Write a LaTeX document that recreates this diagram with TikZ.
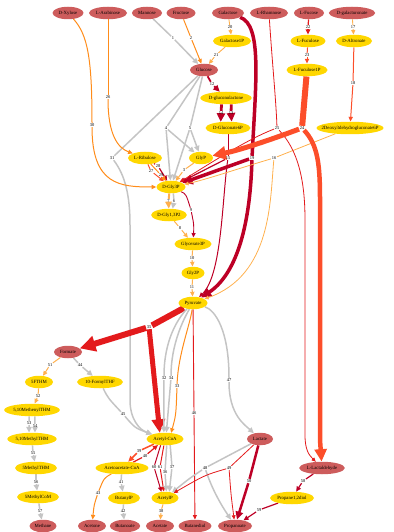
\documentclass[tikz,border=0pt]{standalone}
\usepackage{fontspec}
\setmainfont{Liberation Serif}
\usetikzlibrary{shapes.geometric,arrows.meta}
\definecolor{nr}{HTML}{CD5C5C}
\definecolor{ny}{HTML}{FFD700}
\definecolor{cg}{HTML}{C4C4C4}
\definecolor{cl}{HTML}{FFB04D}
\definecolor{co}{HTML}{FF8C1A}
\definecolor{cor}{HTML}{FC4E2A}
\definecolor{cr}{HTML}{E31A1C}
\definecolor{cd}{HTML}{BD0026}
\pgfdeclarelayer{bg}
\pgfsetlayers{bg,main}
\begin{document}
\begin{tikzpicture}[x=1bp,y=-1bp,
 met/.style={ellipse,inner xsep=1bp,inner ysep=0.5bp,minimum height=12.5bp,font=\fontsize{4.8}{5.5}\selectfont},
 rm/.style={met,fill=nr,minimum width=#1bp},
 ym/.style={met,fill=ny,minimum width=#1bp},
 rx/.style={inner sep=0.5bp,font=\fontsize{4.5}{5}\selectfont,text=black},
 arw/.style={-{Triangle[length=2.5bp 2.2,width=2bp 2.2]}},
 eg/.style={draw=cg,line width=1.5bp},
 el/.style={draw=cl,line width=#1bp}, el/.default=0.9,
 eo/.style={draw=co,line width=#1bp}, eo/.default=1,
 eor/.style={draw=cor,line width=#1bp}, eor/.default=1,
 er/.style={draw=cr,line width=#1bp}, er/.default=1,
 ed/.style={draw=cd,line width=#1bp}, ed/.default=1]
\useasboundingbox (0,0) rectangle (393,532);
% metabolites
\node[rm=31] (Xyl) at (68,13) {D-Xylose};
\node[rm=38] (Ara) at (108,13) {L-Arabinose};
\node[rm=30] (Man) at (147,13) {Mannose};
\node[rm=29] (Fru) at (181,13) {Fructose};
\node[rm=32] (Gal) at (228,13) {Galactose};
\node[rm=38] (Rha) at (269,13) {L-Rhamnose};
\node[rm=30] (Fuc) at (309,13) {L-Fucose};
\node[rm=46] (Galu) at (352,13) {D-galacturonate};
\node[ym=38] (GalP) at (232,41) {Galactose1P};
\node[ym=35] (Fucl) at (308,41) {L-Fuculose};
\node[ym=36] (Alt) at (354,41) {D-Altronate};
\node[rm=28] (Glc) at (204,70) {Glucose};
\node[ym=41] (FuclP) at (307,70) {L-Fuculose1P};
\node[ym=50] (Glnl) at (226,98) {D-gluconolactone};
\node[ym=45] (Gnt) at (228,128) {D-Gluconate6P};
\node[ym=67,inner xsep=-12bp] (KDPG) at (350,128) {2Deoxy3dehydrogluconate6P};
\node[ym=34] (Rbl) at (145,158) {L-Ribulose};
\node[ym=24] (GlyP) at (201,158) {GlyP};
\node[ym=29] (G3P) at (171,187) {D-Gly3P};
\node[ym=34] (BPG) at (169,215) {D-Gly1,3P2};
\node[ym=37] (PGA) at (193,244) {Glycerate3P};
\node[ym=23] (Gly2P) at (193,273) {Gly2P};
\node[ym=29] (Pyr) at (193,303) {Pyruvate};
\node[rm=28] (For) at (68,352) {Formate};
\node[ym=28] (FTHM) at (39,382) {5FTHM};
\node[ym=46] (FTHF) at (100,382) {10-FormylTHF};
\node[ym=54] (MeTHM) at (32,410) {5,10MethenylTHM};
\node[ym=48] (MTHM) at (32,439) {5,10MethylTHM};
\node[ym=42] (M5) at (36,468) {5MethylTHM};
\node[ym=42] (MCoM) at (38,497) {5MethylCoM};
\node[ym=37] (AcCoA) at (165,439) {Acetyl-CoA};
\node[ym=51] (AcAc) at (122,468) {Acetoacetate-CoA};
\node[ym=32] (BuP) at (124,498) {ButanylP};
\node[ym=27] (AcP) at (165,498) {AcetylP};
\node[rm=26] (Lac) at (260,439) {Lactate};
\node[rm=45] (Lald) at (322,468) {L-Lactaldehyde};
\node[ym=44] (PD) at (292,498) {Propane1,2diol};
\node[rm=27] (Meth) at (43,526) {Methane};
\node[rm=28] (Acet) at (92,526) {Acetone};
\node[rm=30] (Buta) at (125,526) {Butanoate};
\node[rm=28] (Ace) at (160,526) {Acetate};
\node[rm=33] (Bdo) at (195,526) {Butanediol};
\node[rm=34] (Prop) at (235,526) {Propanoate};
% reactions
\node[rx] (r1) at (173,38) {1};
\node[rx] (r2) at (191,38) {2};
\node[rx] (r20) at (230,27) {20};
\node[rx] (r21) at (216,55) {21};
\node[rx] (r22) at (308,27) {22};
\node[rx] (r23) at (307,55) {23};
\node[rx] (r17) at (353,27) {17};
\node[rx] (r18) at (353,83) {18};
\node[rx] (r12) at (212,84) {12};
\node[rx] (r14) at (221,113) {14};
\node[rx] (r13) at (231,113) {13};
\node[rx] (r15) at (228,158) {15};
\node[rx] (r19) at (252,158) {19};
\node[rx] (r16) at (274,158) {16};
\node[rx] (r25) at (277,128) {25};
\node[rx] (r24) at (302,128) {24};
\node[rx] (r4) at (166,128) {4};
\node[rx] (r5) at (190,128) {5};
\node[rx] (r31) at (112,158) {31};
\node[rx] (r3) at (184,170) {3};
\node[rx] (r26) at (108,97) {26};
\node[rx] (r30) at (92,125) {30};
\node[rx] (r27) at (151,171) {27};
\node[rx] (r28) at (158,166) {28};
\node[rx] (r29) at (161,175) {29};
\node[rx] (r7) at (168.5,201) {7};
\node[rx] (r6) at (174,201) {6};
\node[rx] (r9) at (191,210) {9};
\node[rx] (r8) at (180,228) {8};
\node[rx] (r10) at (192,258) {10};
\node[rx] (r11) at (192,287) {11};
\node[rx] (r35) at (149,327) {35};
\node[rx] (r32) at (164,378) {32};
\node[rx] (r34) at (171,378) {34};
\node[rx] (r33) at (177,386) {33};
\node[rx] (r46) at (194,413) {46};
\node[rx] (r47) at (229,380) {47};
\node[rx] (r51) at (50,365) {51};
\node[rx] (r44) at (80,365) {44};
\node[rx] (r45) at (123,414) {45};
\node[rx] (r52) at (38,396) {52};
\node[rx] (r53) at (29,423) {53};
\node[rx] (r54) at (35,426) {54};
\node[rx] (r55) at (33,453) {55};
\node[rx] (r56) at (36,482) {56};
\node[rx] (r57) at (40,511) {57};
\node[rx] (r39) at (139,451) {39};
\node[rx] (r40) at (145,456) {40};
\node[rx] (r41) at (121,482) {41};
\node[rx] (r42) at (123,511) {42};
\node[rx] (r43) at (98,493) {43};
\node[rx] (r60) at (154,467) {60};
\node[rx] (r61) at (160,467) {61};
\node[rx] (r36) at (165,472) {36};
\node[rx] (r37) at (172,467) {37};
\node[rx] (r38) at (161,511) {38};
\node[rx] (r48) at (205,468) {48};
\node[rx] (r49) at (229,468) {49};
\node[rx] (r50) at (249,481) {50};
\node[rx] (r58) at (303,481) {58};
\node[rx] (r59) at (259,510) {59};
\begin{pgfonlayer}{bg}
\draw[eg] (Man) -- (r1); \draw[eg,arw] (r1) -- (Glc);
\draw[eo] (Fru) -- (r2); \draw[eo,arw] (r2) -- (Glc);
\draw[el] (Gal) -- (r20); \draw[el,arw] (r20) -- (GalP);
\draw[el] (GalP) -- (r21); \draw[el,arw] (r21) -- (Glc);
\draw[er=1.2] (Fuc) -- (r22); \draw[er=1.2,arw] (r22) -- (Fucl);
\draw[eor] (Fucl) -- (r23); \draw[eor,arw] (r23) -- (FuclP);
\draw[el] (Galu) -- (r17); \draw[el,arw] (r17) -- (Alt);
\draw[eor] (Alt) -- (r18); \draw[eor,arw] (r18) -- (KDPG);
\draw[ed=1.8] (Glc) -- (r12); \draw[ed=1.8,arw] (r12) -- (Glnl);
\draw[ed=2.8] (Glnl.235) -- (r14); \draw[ed=2.8,arw] (r14) -- (Gnt.140);
\draw[ed=2.8] (Glnl.310) -- (r13); \draw[ed=2.8,arw] (r13) -- (Gnt.60);
\draw[ed] (Gnt) -- (r15);
\draw[ed=1.2,arw] (r15) -- (G3P);
\draw[ed,arw] (r15) .. controls (222,200) and (222,275) .. (Pyr);
\draw[ed=3.5] (Gal) .. controls (262,25) and (256,80) .. (r19);
\draw[ed=3.5,arw] (r19) -- (G3P);
\draw[ed=3.5,arw] (r19) .. controls (250,230) and (235,275) .. (Pyr);
\draw[el=0.8] (KDPG) -- (r16);
\draw[el=0.8,arw] (r16) .. controls (240,168) and (205,180) .. (G3P);
\draw[el=0.8,arw] (r16) .. controls (270,200) and (272,275) .. (Pyr);
\draw[er=0.8] (Rha) .. controls (272,60) and (276,100) .. (r25);
\draw[er=0.8,arw] (r25) .. controls (245,140) and (200,170) .. (G3P);
\draw[er=0.8,arw] (r25) .. controls (298,150) and (305,180) .. (305,220) -- (305,435) .. controls (305,450) and (309,455) .. (Lald);
\draw[eor=6] (FuclP) -- (r24);
\draw[eor=5,arw] (r24) .. controls (270,140) and (240,150) .. (GlyP);
\draw[eor=4.5,arw] (r24) .. controls (318,145) and (320,165) .. (320,200) -- (320,440) -- (Lald);
\draw[eg] (Glc) -- (r4); \draw[eg,arw] (r4) -- (G3P); \draw[eg,arw] (r4) -- (GlyP);
\draw[eg] (Glc) -- (r5); \draw[eg,arw] (r5) -- (GlyP); \draw[eg,arw] (r5) -- (G3P);
\draw[eg] (Glc) -- (r31);
\draw[eg,arw] (r31) .. controls (125,175) and (130,195) .. (130,225) -- (130,400) .. controls (130,420) and (140,430) .. (AcCoA);
\draw[el=1] (GlyP) -- (r3); \draw[el=1,arw] (r3) -- (G3P);
\draw[eo] (Ara) -- (r26); \draw[eo,arw] (r26) .. controls (108,135) and (118,148) .. (Rbl);
\draw[eo] (Xyl) .. controls (88,35) and (92,60) .. (r30);
\draw[eo,arw] (r30) .. controls (92,185) and (120,187) .. (G3P);
\draw[eor] (Rbl) -- (r27); \draw[eor,arw] (r27) -- (G3P);
\draw[ed=1.2] (Rbl) -- (r28); \draw[ed=1.2,arw] (r28) -- (G3P);
\draw[eo] (Rbl) -- (r29); \draw[eo,arw] (r29) -- (G3P);
\draw[el=2] (G3P.255) -- (r7); \draw[el=2,arw] (r7) -- (BPG.92);
\draw[eg] (G3P.290) -- (r6); \draw[eg,arw] (r6) -- (BPG.60);
\draw[ed=0.9] (G3P) .. controls (186,194) .. (r9); \draw[ed=0.9,arw] (r9) .. controls (194,225) .. (PGA);
\draw[el=1] (BPG) -- (r8); \draw[el=1,arw] (r8) -- (PGA);
\draw[el=1] (PGA) -- (r10); \draw[el=1,arw] (r10) -- (Gly2P);
\draw[el=1] (Gly2P) -- (r11); \draw[el=1,arw] (r11) -- (Pyr);
\draw[er=6] (Pyr) -- (r35); \draw[er=6,arw] (r35) -- (For); \draw[er=5,arw] (r35) -- (AcCoA.130);
\draw[eg] (Pyr) .. controls (178,318) and (164,340) .. (r32); \draw[eg,arw] (r32) -- (AcCoA.100);
\draw[eg] (Pyr) .. controls (183,320) and (171,345) .. (r34); \draw[eg,arw] (r34) -- (AcCoA.78);
\draw[eo] (Pyr) .. controls (190,325) and (178,355) .. (r33); \draw[eo,arw] (r33) .. controls (176,415) .. (AcCoA.45);
\draw[er=0.9] (Pyr) -- (r46); \draw[er=0.9,arw] (r46) -- (Bdo);
\draw[eg] (Pyr) .. controls (215,310) and (229,330) .. (r47); \draw[eg,arw] (r47) .. controls (229,415) and (245,425) .. (Lac);
\draw[el=1] (For) -- (r51); \draw[el=1,arw] (r51) -- (FTHM);
\draw[eg] (For) -- (r44); \draw[eg,arw] (r44) -- (FTHF);
\draw[eg] (FTHF) .. controls (108,398) .. (r45); \draw[eg,arw] (r45) .. controls (135,428) .. (AcCoA);
\draw[el=1] (FTHM) -- (r52); \draw[el=1,arw] (r52) -- (MeTHM);
\draw[eg] (MeTHM.245) -- (r53); \draw[eg,arw] (r53) -- (MTHM.115);
\draw[eg] (MeTHM.295) -- (r54); \draw[eg,arw] (r54) -- (MTHM.65);
\draw[eg] (MTHM) -- (r55); \draw[eg,arw] (r55) -- (M5);
\draw[eg] (M5) -- (r56); \draw[eg,arw] (r56) -- (MCoM);
\draw[eg] (MCoM) -- (r57); \draw[eg,arw] (r57) -- (Meth);
\draw[eor=1.5] (AcCoA) -- (r39); \draw[eor=1.5,arw] (r39) -- (AcAc);
\draw[er=1.2] (AcAc) -- (r40); \draw[er=1.2,arw] (r40) -- (AcCoA);
\draw[eg] (AcAc) -- (r41); \draw[eg,arw] (r41) -- (BuP);
\draw[eg] (BuP) -- (r42); \draw[eg,arw] (r42) -- (Buta);
\draw[eo] (AcAc) .. controls (104,478) .. (r43); \draw[eo,arw] (r43) .. controls (94,505) .. (Acet);
\draw[ed] (AcCoA.235) -- (r60); \draw[ed,arw] (r60) -- (AcP.120);
\draw[er] (AcCoA.260) -- (r61); \draw[er,arw] (r61) -- (AcP.100);
\draw[eg] (AcCoA.285) -- (r36); \draw[eg,arw] (r36) -- (AcP.78);
\draw[eg] (AcCoA.310) -- (r37); \draw[eg,arw] (r37) -- (AcP.55);
\draw[el=1] (AcP) -- (r38); \draw[el=1,arw] (r38) -- (Ace);
\draw[eg] (Lac) -- (r48); \draw[eg,arw] (r48) .. controls (190,478) .. (AcP);
\draw[eg,arw] (r48) .. controls (214,495) and (226,512) .. (Prop);
\draw[er=0.8] (Lac) -- (r49); \draw[er=0.8,arw] (r49) .. controls (205,475) .. (AcP);
\draw[er=0.8,arw] (r49) .. controls (231,495) .. (Prop);
\draw[ed=2.5] (Lac) -- (r50); \draw[ed=2.5,arw] (r50) -- (Prop);
\draw[ed=1.2] (Lald) -- (r58); \draw[ed=1.2,arw] (r58) -- (PD);
\draw[ed=1.2] (PD) -- (r59); \draw[ed=1.2,arw] (r59) -- (Prop);
\end{pgfonlayer}
\end{tikzpicture}
\end{document}
